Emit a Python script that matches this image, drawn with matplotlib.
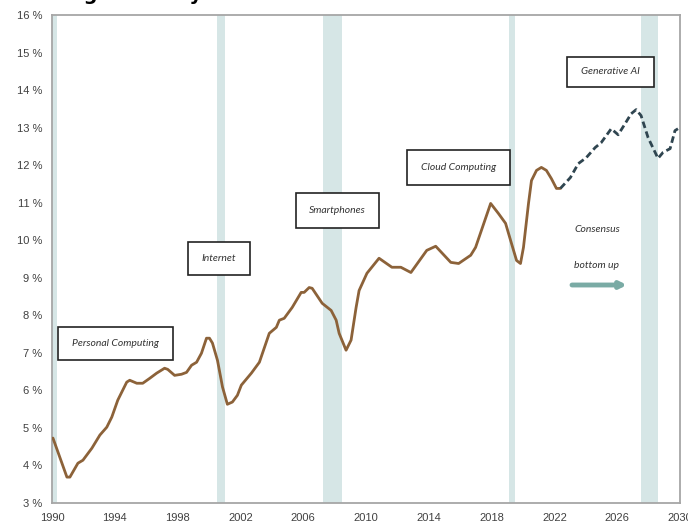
import matplotlib.pyplot as plt
from matplotlib.patches import Rectangle

# Historical IT spending share (% of GDP)
hist_years = [1990.06, 1990.95, 1991.14, 1991.65, 1991.97, 1992.54, 1993.05, 1993.49, 1993.81,
              1994.19, 1994.76, 1994.95, 1995.40, 1995.78, 1996.22, 1996.67, 1997.17, 1997.37,
              1997.81, 1998.25, 1998.57, 1998.89, 1999.21, 1999.52, 1999.84, 2000.03, 2000.22,
              2000.54, 2000.86, 2001.17, 2001.49, 2001.81, 2002.06, 2002.70, 2003.21, 2003.84,
              2004.29, 2004.48, 2004.79, 2005.30, 2005.87, 2006.06, 2006.38, 2006.57, 2007.21,
              2007.78, 2008.10, 2008.29, 2008.73, 2009.05, 2009.37, 2009.56, 2010.06, 2010.83,
              2011.65, 2012.22, 2012.86, 2013.87, 2014.44, 2015.40, 2015.90, 2016.67, 2016.98,
              2017.94, 2018.44, 2018.89, 2019.27, 2019.59, 2019.84, 2020.03, 2020.35, 2020.54,
              2020.86, 2021.17, 2021.49, 2021.81, 2022.13, 2022.38]
hist_vals = [4.73, 3.69, 3.69, 4.06, 4.14, 4.46, 4.81, 5.02, 5.29,
             5.74, 6.22, 6.27, 6.19, 6.19, 6.32, 6.46, 6.59, 6.56,
             6.40, 6.43, 6.48, 6.67, 6.75, 6.99, 7.39, 7.39, 7.26,
             6.80, 6.09, 5.63, 5.69, 5.87, 6.14, 6.46, 6.75, 7.52,
             7.68, 7.87, 7.92, 8.21, 8.61, 8.61, 8.74, 8.72, 8.32,
             8.13, 7.87, 7.52, 7.07, 7.34, 8.21, 8.66, 9.12, 9.52,
             9.28, 9.28, 9.14, 9.73, 9.84, 9.41, 9.38, 9.60, 9.81,
             10.98, 10.71, 10.45, 9.91, 9.46, 9.38, 9.81, 10.98, 11.59,
             11.86, 11.94, 11.86, 11.64, 11.38, 11.38]

# Projection (consensus bottom up)
proj_years = [2022.38, 2023.02, 2023.52, 2024.03, 2024.60, 2024.98, 2025.62, 2026.06, 2026.51,
              2026.89, 2027.21, 2027.52, 2027.97, 2028.60, 2028.92, 2029.37, 2029.68, 2029.87]
proj_vals = [11.38, 11.67, 12.04, 12.20, 12.47, 12.60, 12.97, 12.81, 13.11,
             13.37, 13.48, 13.32, 12.73, 12.18, 12.34, 12.44, 12.92, 12.97]

# Recession / downturn bands
band_start = [1990.0, 2000.54, 2007.27, 2019.14, 2027.52]
band_end = [1990.35, 2001.05, 2008.48, 2019.46, 2028.60]

cycle_labels = ['Personal Computing', 'Internet', 'Smartphones', 'Cloud Computing', 'Generative AI']

xticks = [1990, 1994, 1998, 2002, 2006, 2010, 2014, 2018, 2022, 2026, 2030]
yticks = list(range(3, 17))

W, H = 688, 525
fig = plt.figure(figsize=(W / 100, H / 100), dpi=100)
L, R, T, B = 52, 680, 15, 503
ax = fig.add_axes([L / W, 1 - B / H, (R - L) / W, (B - T) / H])


def fx(px):
    return (px - L) / (R - L)


def fy(py):
    return (B - py) / (B - T)


for s, e in zip(band_start, band_end):
    ax.axvspan(s, e, color='#d6e6e6', lw=0, zorder=0)

ax.plot(hist_years, hist_vals, color='#8c6239', lw=2.0, solid_joinstyle='round',
        solid_capstyle='round', zorder=3)
ax.plot(proj_years, proj_vals, color='#2f4550', lw=2.0, dashes=(2.4, 1.3), zorder=3)

ax.set_xlim(1990, 2030)
ax.set_ylim(3, 16)
ax.set_xticks(xticks)
ax.set_xticklabels([str(x) for x in xticks])
ax.set_yticks(yticks)
ax.set_yticklabels([f'{y} %' for y in yticks])
ax.tick_params(length=0, labelsize=8, labelcolor='#404040', pad=7)
for lab in ax.get_xticklabels() + ax.get_yticklabels():
    lab.set_family('Liberation Sans')
for side in ['left', 'right', 'top', 'bottom']:
    ax.spines[side].set_color('#a6a6a6')
    ax.spines[side].set_linewidth(1.3)

# labelled boxes for each technology cycle (pixel boxes: x0, y0, x1, y1)
boxes = [(58, 327, 173, 360), (188, 242, 250, 275), (296, 193, 379, 228),
         (407, 150, 510, 185), (567, 57, 654, 87)]
for lab, (x0, y0, x1, y1) in zip(cycle_labels, boxes):
    ax.add_patch(Rectangle((fx(x0), fy(y1)), fx(x1) - fx(x0), fy(y0) - fy(y1),
                           transform=ax.transAxes, facecolor='white', edgecolor='#222222',
                           lw=1.2, zorder=4))
    ax.text(fx((x0 + x1) / 2), fy((y0 + y1) / 2), lab, transform=ax.transAxes,
            ha='center', va='center', fontsize=7.5, style='italic', family='Lato',
            color='#333333', zorder=5)

ax.text(fx(597), fy(229), 'Consensus', transform=ax.transAxes, ha='center', va='center',
        fontsize=7.5, style='italic', family='Lato', color='#333333')
ax.text(fx(597), fy(265), 'bottom up', transform=ax.transAxes, ha='center', va='center',
        fontsize=7.5, style='italic', family='Lato', color='#333333')
ax.annotate('', xy=(fx(627), fy(285)), xytext=(fx(572), fy(285)),
            xycoords='axes fraction', textcoords='axes fraction',
            arrowprops=dict(arrowstyle='-|>', color='#7aaba5', lw=3.5, mutation_scale=9,
                            shrinkA=0, shrinkB=0))

# title (cut off at the top edge in the original)
fig.text(30 / W, 1.0, 'Rising Intensity', fontsize=14, fontweight='bold',
         va='baseline', ha='left', color='black')

fig.savefig('out.png', dpi=100)
